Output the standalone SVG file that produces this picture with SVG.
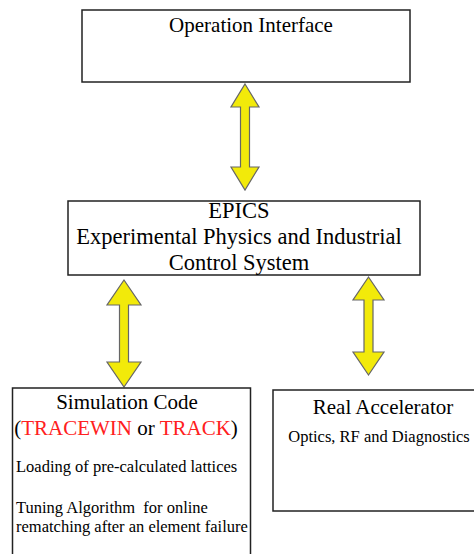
<svg xmlns="http://www.w3.org/2000/svg" width="474" height="554" viewBox="0 0 474 554">
<style>
.box{fill:#fff;stroke:#222;stroke-width:1.5}
.arr{fill:#F2EA0A;stroke:#666;stroke-width:1.2;stroke-linejoin:miter}
.red{fill:#FF2020}
</style>
<rect width="474" height="554" fill="#fff"/>
<g id="connectors">
<polygon class="arr" points="245,84 259,107 249.5,107 249.5,167 259,167 245,190 231,167 240.5,167 240.5,107 231,107"/>
<polygon class="arr" points="124,280 141,305 128.5,305 128.5,362 141,362 124,387 107,362 119.5,362 119.5,305 107,305"/>
<polygon class="arr" points="368.5,277 384,300 373,300 373,352 384,352 368.5,375 353,352 364,352 364,300 353,300"/>
</g>
<g id="operation-interface">
<rect class="box" x="82" y="10" width="328" height="72"/>
<text font-family="Liberation Serif" font-size="21" x="251" y="32" text-anchor="middle">Operation Interface</text>
</g>
<g id="epics">
<rect class="box" x="68" y="201" width="352" height="74"/>
<text font-family="Liberation Serif" font-size="22.5" x="239" y="218" text-anchor="middle">EPICS</text>
<text font-family="Liberation Serif" font-size="22.5" x="239" y="243.5" text-anchor="middle">Experimental Physics and Industrial</text>
<text font-family="Liberation Serif" font-size="22.5" x="239" y="270" text-anchor="middle">Control System</text>
</g>
<g id="simulation-code">
<rect class="box" x="12.5" y="388" width="238" height="180"/>
<text font-family="Liberation Serif" font-size="21" x="127" y="409" text-anchor="middle">Simulation Code</text>
<text font-family="Liberation Serif" font-size="21" x="126" y="435" text-anchor="middle">(<tspan class="red">TRACEWIN</tspan> or <tspan class="red">TRACK</tspan>)</text>
<text font-family="Liberation Serif" font-size="16.5" x="16" y="472">Loading of pre-calculated lattices</text>
<text font-family="Liberation Serif" font-size="16.5" x="16" y="513" xml:space="preserve">Tuning Algorithm  for online</text>
<text font-family="Liberation Serif" font-size="16.5" x="16" y="532">rematching after an element failure</text>
</g>
<g id="real-accelerator">
<rect class="box" x="273" y="390" width="210" height="121"/>
<text font-family="Liberation Serif" font-size="21" x="383" y="414" text-anchor="middle">Real Accelerator</text>
<text font-family="Liberation Serif" font-size="16.5" x="379" y="442" text-anchor="middle">Optics, RF and Diagnostics</text>
</g>
</svg>
